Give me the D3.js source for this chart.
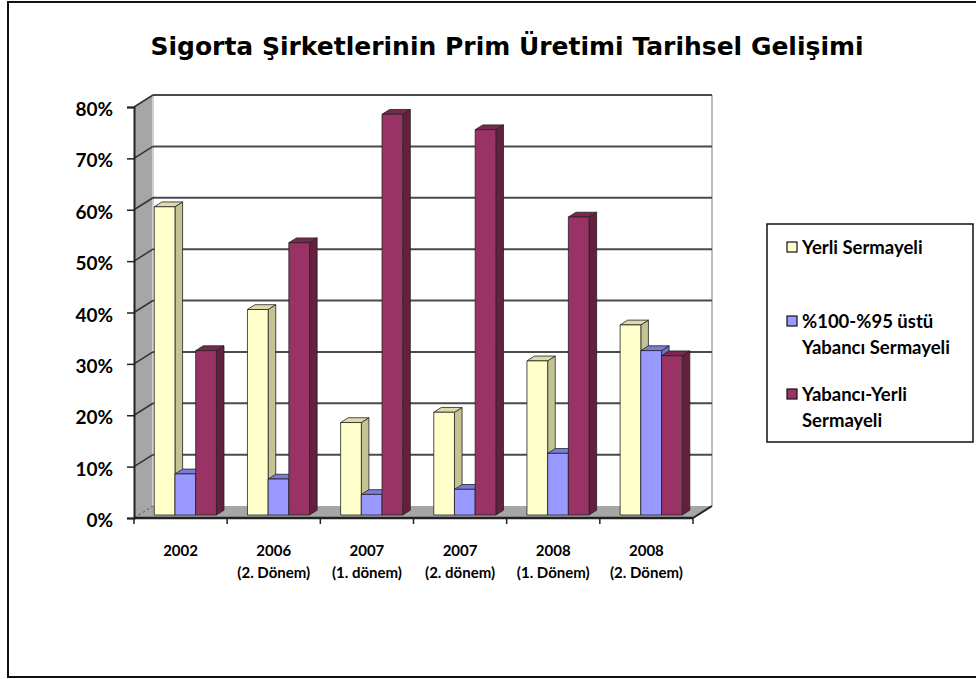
<!DOCTYPE html>
<html>
<head>
<meta charset="utf-8">
<script src="https://cdn.jsdelivr.net/npm/d3@7"></script>
<style>
  body { margin: 0; background: #fff; }
  svg { display: block; }
</style>
</head>
<body>
<div id="chart"></div>
<script>
const categories = ["2002", "2006\n(2. Dönem)", "2007\n(1. dönem)", "2007\n(2. dönem)", "2008\n(1. Dönem)", "2008\n(2. Dönem)"];
const seriesNames = ["Yerli Sermayeli", "%100-%95 üstü Yabancı Sermayeli", "Yabancı-Yerli Sermayeli"];
const yerli = [60, 40, 18, 20, 30, 37];
const yabanci = [8, 7, 4, 5, 12, 32];
const yabanciYerli = [32, 53, 78, 75, 58, 31];
const yTicks = [0, 10, 20, 30, 40, 50, 60, 70, 80];
const legendLines = [["Yerli Sermayeli"], ["%100-%95 üstü", "Yabancı Sermayeli"], ["Yabancı-Yerli", "Sermayeli"]];

const seriesValues = [yerli, yabanci, yabanciYerli];
const colors = [
  { front: "#FFFFCC", side: "#c4c493", top: "#dcdcaa" },
  { front: "#9999FF", side: "#7070c8", top: "#7b7bdc" },
  { front: "#993366", side: "#66203f", top: "#7a2850" }
];

const width = 976, height = 679;
const svg = d3.select("#chart").append("svg")
  .attr("width", width)
  .attr("height", height);

// outer frame
svg.append("rect")
  .attr("x", 8).attr("y", 2)
  .attr("width", 1000).attr("height", 675)
  .attr("fill", "#fff")
  .attr("stroke", "#111")
  .attr("stroke-width", 2);

// title
svg.append("text")
  .attr("x", 507)
  .attr("y", 55)
  .attr("text-anchor", "middle")
  .attr("font-family", "DejaVu Sans")
  .attr("font-weight", "bold")
  .attr("font-size", 25)
  .attr("fill", "#000")
  .text("Sigorta Şirketlerinin Prim Üretimi Tarihsel Gelişimi");

// 3d plot geometry
const plotL = 134, plotR = 693, plotB = 518, plotT = 107;
const depthX = 19, depthY = 12;

const x0 = d3.scaleBand().domain(categories).range([plotL, plotR]).padding(0);
const x1 = d3.scaleBand().domain(seriesNames).range([0, x0.bandwidth()])
  .paddingInner(0).paddingOuter(0.75);
const y = d3.scaleLinear().domain([0, 80]).range([plotB, plotT]);

const pts = arr => arr.map(p => p.join(",")).join(" ");

// left wall
svg.append("polygon")
  .attr("points", pts([[plotL, plotB], [plotL, plotT], [plotL + depthX, plotT - depthY], [plotL + depthX, plotB - depthY]]))
  .attr("fill", "#a6a6a6");

// floor
svg.append("polygon")
  .attr("points", pts([[plotL, plotB], [plotR, plotB], [plotR + depthX, plotB - depthY], [plotL + depthX, plotB - depthY]]))
  .attr("fill", "#a6a6a6");

// back wall
svg.append("rect")
  .attr("x", plotL + depthX)
  .attr("y", plotT - depthY)
  .attr("width", plotR - plotL)
  .attr("height", plotB - plotT)
  .attr("fill", "#fff");

svg.append("line")
  .attr("x1", plotL + depthX).attr("x2", plotL + depthX)
  .attr("y1", plotT - depthY).attr("y2", plotB - depthY)
  .attr("stroke", "#d0d0d0").attr("stroke-width", 2);

svg.append("line")
  .attr("x1", plotR + depthX).attr("x2", plotR + depthX)
  .attr("y1", plotT - depthY).attr("y2", plotB - depthY)
  .attr("stroke", "#bdbdbd").attr("stroke-width", 2);

// gridlines on back wall and left wall
const grid = svg.append("g");
yTicks.filter(t => t > 0).forEach(t => {
  grid.append("line")
    .attr("x1", plotL + depthX).attr("x2", plotR + depthX)
    .attr("y1", y(t) - depthY).attr("y2", y(t) - depthY)
    .attr("stroke", "#4a4a4a").attr("stroke-width", 2);
  grid.append("line")
    .attr("x1", plotL).attr("x2", plotL + depthX)
    .attr("y1", y(t)).attr("y2", y(t) - depthY)
    .attr("stroke", "#333").attr("stroke-width", 1.5);
});
grid.append("line")
  .attr("x1", plotL).attr("x2", plotL + depthX)
  .attr("y1", plotB).attr("y2", plotB - depthY)
  .attr("stroke", "#555").attr("stroke-width", 1)
  .attr("stroke-dasharray", "3,2");

// bars
const f1 = 0.25, f2 = 0.65;
const bars = svg.append("g");
categories.forEach((c, i) => {
  seriesNames.forEach((s, j) => {
    const v = seriesValues[j][i];
    const col = colors[j];
    const xl = x0(c) + x1(s) + depthX * f1;
    const xr = xl + x1.bandwidth();
    const yt = y(v) - depthY * f1;
    const yb = y(0) - depthY * f1;
    const ddx = depthX * (f2 - f1), ddy = depthY * (f2 - f1);
    const g = bars.append("g").attr("stroke", "#222").attr("stroke-width", 0.8).attr("stroke-linejoin", "round");
    g.append("polygon")
      .attr("points", pts([[xr, yt], [xr + ddx, yt - ddy], [xr + ddx, yb - ddy], [xr, yb]]))
      .attr("fill", col.side);
    g.append("polygon")
      .attr("points", pts([[xl, yt], [xr, yt], [xr + ddx, yt - ddy], [xl + ddx, yt - ddy]]))
      .attr("fill", col.top);
    g.append("rect")
      .attr("x", xl).attr("y", yt)
      .attr("width", xr - xl).attr("height", yb - yt)
      .attr("fill", col.front);
  });
});

// front edges / axes
svg.append("line")
  .attr("x1", plotL).attr("x2", plotR)
  .attr("y1", plotB).attr("y2", plotB)
  .attr("stroke", "#222").attr("stroke-width", 2.5);
svg.append("line")
  .attr("x1", plotR).attr("x2", plotR + depthX)
  .attr("y1", plotB).attr("y2", plotB - depthY)
  .attr("stroke", "#222").attr("stroke-width", 2);

const yAxis = d3.axisLeft(y)
  .tickValues(yTicks)
  .tickSize(7)
  .tickPadding(14)
  .tickFormat(d => d + "%");
const yg = svg.append("g")
  .attr("transform", `translate(${plotL},0)`)
  .call(yAxis);
yg.select(".domain").attr("stroke", "#222").attr("stroke-width", 2);
yg.selectAll(".tick line").attr("stroke", "#222").attr("stroke-width", 1.5);
yg.selectAll(".tick text")
  .attr("font-family", "Lato, Open Sans, sans-serif")
  .attr("font-weight", "bold")
  .attr("font-size", 19)
  .attr("fill", "#000")
  .attr("dy", "0.45em");

const xAxis = d3.axisBottom(x0).tickSize(0).tickFormat("");
const xg = svg.append("g")
  .attr("transform", `translate(0,${plotB})`)
  .call(xAxis);
xg.select(".domain").remove();
x0.domain().concat([null]).forEach(c => {
  const xx = c === null ? plotR : x0(c);
  xg.append("line")
    .attr("x1", xx).attr("x2", xx)
    .attr("y1", 0).attr("y2", 6)
    .attr("stroke", "#222").attr("stroke-width", 1.5);
});

const catLabels = svg.append("g")
  .attr("font-family", "Lato, Open Sans, sans-serif")
  .attr("font-weight", "bold")
  .attr("font-size", 15)
  .attr("text-anchor", "middle")
  .attr("fill", "#000");
categories.forEach(c => {
  const t = catLabels.append("text")
    .attr("x", x0(c) + x0.bandwidth() / 2)
    .attr("y", 556);
  c.split("\n").forEach((line, k) => {
    t.append("tspan")
      .attr("x", x0(c) + x0.bandwidth() / 2)
      .attr("y", 556 + k * 22)
      .text(line);
  });
});

// legend
const legend = svg.append("g");
legend.append("rect")
  .attr("x", 767).attr("y", 224)
  .attr("width", 206).attr("height", 218)
  .attr("fill", "#fff")
  .attr("stroke", "#111")
  .attr("stroke-width", 1.5);

const itemY = [247, 321, 394];
legendLines.forEach((lines, j) => {
  legend.append("rect")
    .attr("x", 787).attr("y", itemY[j] - 5)
    .attr("width", 10).attr("height", 10)
    .attr("fill", colors[j].front)
    .attr("stroke", "#111")
    .attr("stroke-width", 1.2);
  lines.forEach((line, k) => {
    legend.append("text")
      .attr("x", 802)
      .attr("y", itemY[j] + k * 26)
      .attr("dy", "0.36em")
      .attr("font-family", "Lato, Open Sans, sans-serif")
      .attr("font-weight", "bold")
      .attr("font-size", 18.5)
      .attr("fill", "#000")
      .text(line);
  });
});
</script>
</body>
</html>
